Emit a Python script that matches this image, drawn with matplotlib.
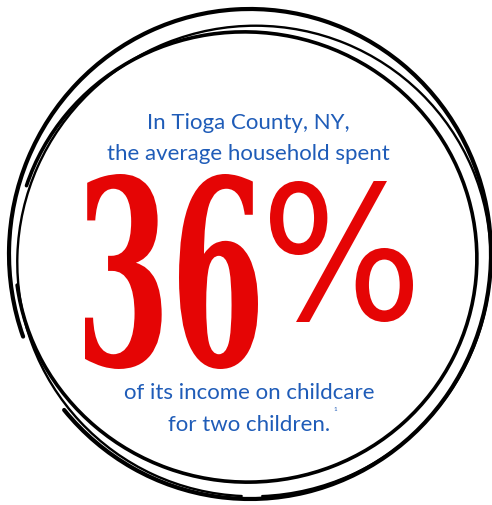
import numpy as np
import matplotlib
matplotlib.use("Agg")
import matplotlib.pyplot as plt
import matplotlib.patheffects as pe
from matplotlib.patches import Arc
from matplotlib.textpath import TextPath
from matplotlib.transforms import Affine2D

# figures from the infographic
share_pct = 36
lines_top = ["In Tioga County, NY,", "the average household spent"]
lines_bottom = ["of its income on childcare", "for two children."]
footnote = "1"

BLUE = "#1f5cb8"
RED = "#e50505"

W, H = 492, 506
fig = plt.figure(figsize=(W / 100, H / 100), dpi=100)
ax = fig.add_axes([0, 0, 1, 1])
ax.set_xlim(0, W)
ax.set_ylim(H, 0)
ax.axis("off")

# scribbled circle: a few loose open loops
loops = [
    # cx, cy, w, h, angle, t1, t2, lw
    (250, 255, 482, 490, 0, 160, 500, 3.0),
    (246, 258, 462, 450, 8, 190, 525, 2.6),
    (254, 262, 474, 470, -22, 115, 470, 1.7),
]
for cx, cy, w, h, ang, t1, t2, lw in loops:
    ax.add_patch(Arc((cx, cy), w, h, angle=ang, theta1=t1, theta2=t2,
                     color="black", lw=lw, capstyle="round"))


class Stretch(pe.AbstractPathEffect):
    # stretch glyphs so the text ink fills a given box
    def __init__(self, tr):
        super().__init__()
        self.tr = tr

    def draw_path(self, renderer, gc, tpath, affine, rgbFace=None):
        renderer.draw_path(gc, tpath, affine + self.tr, rgbFace)


def big_text(s, box, **kw):
    x0, x1, ytop, ybot = box
    t = ax.text(0, 0, s, ha="left", va="baseline", **kw)
    r = fig.canvas.get_renderer()
    # put the plain text box in the middle of the target box
    bb = t.get_window_extent(r)
    ox, oy = ax.transData.transform((0, 0))
    cx, cy = ax.transData.transform(((x0 + x1) / 2, (ytop + ybot) / 2))
    ax_x = cx - bb.width / 2 + (ox - bb.x0)
    ax_y = cy - bb.height / 2 + (oy - bb.y0)
    t.set_position(ax.transData.inverted().transform((ax_x, ax_y)))
    fp = t.get_fontproperties()
    ext = TextPath((0, 0), s, size=fp.get_size_in_points(), prop=fp).get_extents()
    k = fig.dpi / 72
    ix0, iy0 = ax_x + ext.x0 * k, ax_y + ext.y0 * k
    iw, ih = ext.width * k, ext.height * k
    tx0, ty0 = ax.transData.transform((x0, ybot))
    tx1, ty1 = ax.transData.transform((x1, ytop))
    tr = Affine2D().translate(-ix0, -iy0).scale((tx1 - tx0) / iw, (ty1 - ty0) / ih).translate(tx0, ty0)
    t.set_path_effects([Stretch(tr)])
    return t


big_text(str(share_pct), (85, 258, 175, 370), fontsize=78, color=RED,
         family="DejaVu Serif", weight="bold")
big_text("%", (270, 413, 182, 323), fontsize=66, color=RED,
         family="DejaVu Sans")

font = dict(family="Lato", fontsize=16, color=BLUE, ha="center", va="baseline")
for i, s in enumerate(lines_top):
    ax.text(248, 129 + 31 * i, s, **font)
for i, s in enumerate(lines_bottom):
    ax.text(249, 399 + 32 * i, s, **font)
ax.text(335, 411, footnote, family="Lato", fontsize=4.5, color=BLUE,
        ha="center", va="baseline")

fig.savefig("out.png", dpi=100, facecolor="white")
